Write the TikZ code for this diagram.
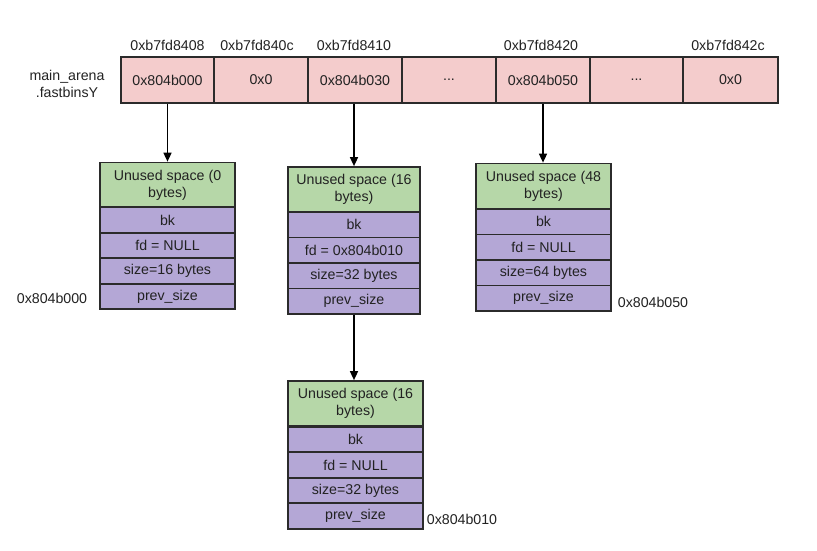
\documentclass[tikz,border=0pt]{standalone}
\usepackage{fontspec}
\setmainfont{Liberation Sans}
\usetikzlibrary{arrows.meta}
\definecolor{pinkc}{HTML}{F4CCCC}
\definecolor{greenc}{HTML}{B6D7A8}
\definecolor{purplec}{HTML}{B4A7D6}
\definecolor{edgec}{HTML}{2B2B2B}
\definecolor{txtc}{HTML}{222222}
\tikzset{
  base/.style={draw=edgec, line width=1.7pt, inner sep=0pt, text=txtc, font=\fontsize{14.2}{17}\selectfont},
  topcell/.style={base, fill=pinkc, minimum height=46pt, minimum width=#1},
  hdr/.style={base, fill=greenc, align=center, minimum width=#1, minimum height=45pt},
  fld/.style={base, fill=purplec, minimum width=#1, minimum height=25.5pt},
  lbl/.style={text=txtc, font=\fontsize{14.2}{17}\selectfont, inner sep=0pt},
  arr/.style={draw=black, line width=1.5pt, -{Triangle[length=9pt,width=8pt]}}
}
\begin{document}
\begin{tikzpicture}[x=1pt,y=-1pt]
\useasboundingbox (0,0) rectangle (817,550);
% top array
\node[topcell=93pt] (c1) at (167.5,80) {0x804b000};
\node[topcell=94pt] (c2) at (261,80) {0x0};
\node[topcell=94pt] (c3) at (355,80) {0x804b030};
\node[topcell=94pt] (c4) at (449,80) {...};
\node[topcell=94pt] (c5) at (543,80) {0x804b050};
\node[topcell=93pt] (c6) at (636.5,80) {...};
\node[topcell=95pt] (c7) at (730.5,80) {0x0};
\node[lbl] (a1) at (167.5,45) {0xb7fd8408};
\node[lbl] (a2) at (257,45) {0xb7fd840c};
\node[lbl] (a3) at (354,45) {0xb7fd8410};
\node[lbl] (a5) at (541,45) {0xb7fd8420};
\node[lbl] (a7) at (728,45) {0xb7fd842c};
\node[lbl, align=center] (ma) at (67,84) {main\_arena\\.fastbinsY};
% chunk 1
\node[hdr=135pt] (b1g) at (167.5,185) {Unused space (0\\bytes)};
\node[fld=135pt] (b1k) at (167.5,220) {bk};
\node[fld=135pt] (b1f) at (167.5,245.5) {fd = NULL};
\node[fld=135pt] (b1s) at (167.5,271) {size=16 bytes};
\node[fld=135pt] (b1p) at (167.5,296.5) {prev\_size};
\node[lbl] (l1) at (52,298) {0x804b000};
% chunk 2
\node[hdr=132pt] (b2g) at (354,189.5) {Unused space (16\\bytes)};
\node[fld=132pt] (b2k) at (354,224.75) {bk};
\node[fld=132pt] (b2f) at (354,250.25) {fd = 0x804b010};
\node[fld=132pt] (b2s) at (354,275.75) {size=32 bytes};
\node[fld=132pt] (b2p) at (354,301.25) {prev\_size};
% chunk 3
\node[hdr=135pt] (b3g) at (543.5,186) {Unused space (48\\bytes)};
\node[fld=135pt] (b3k) at (543.5,221.75) {bk};
\node[fld=135pt] (b3f) at (543.5,247.25) {fd = NULL};
\node[fld=135pt] (b3s) at (543.5,272.75) {size=64 bytes};
\node[fld=135pt] (b3p) at (543.5,298.25) {prev\_size};
\node[lbl] (l3) at (653,302) {0x804b050};
% chunk 4
\node[hdr=135pt] (b4g) at (355.5,403.5) {Unused space (16\\bytes)};
\node[fld=135pt] (b4k) at (355.5,439.5) {bk};
\node[fld=135pt] (b4f) at (355.5,465) {fd = NULL};
\node[fld=135pt] (b4s) at (355.5,490.5) {size=32 bytes};
\node[fld=135pt] (b4p) at (355.5,516) {prev\_size};
\node[lbl] (l4) at (462,519) {0x804b010};
% arrows
\draw[arr] (c1.south) -- (b1g.north);
\draw[arr] (c3.south -| b2g.north) -- (b2g.north);
\draw[arr] (c5.south) -- (c5.south |- b3g.north);
\draw[arr] (b2p.south) -- (b2p.south |- b4g.north);
\end{tikzpicture}
\end{document}
